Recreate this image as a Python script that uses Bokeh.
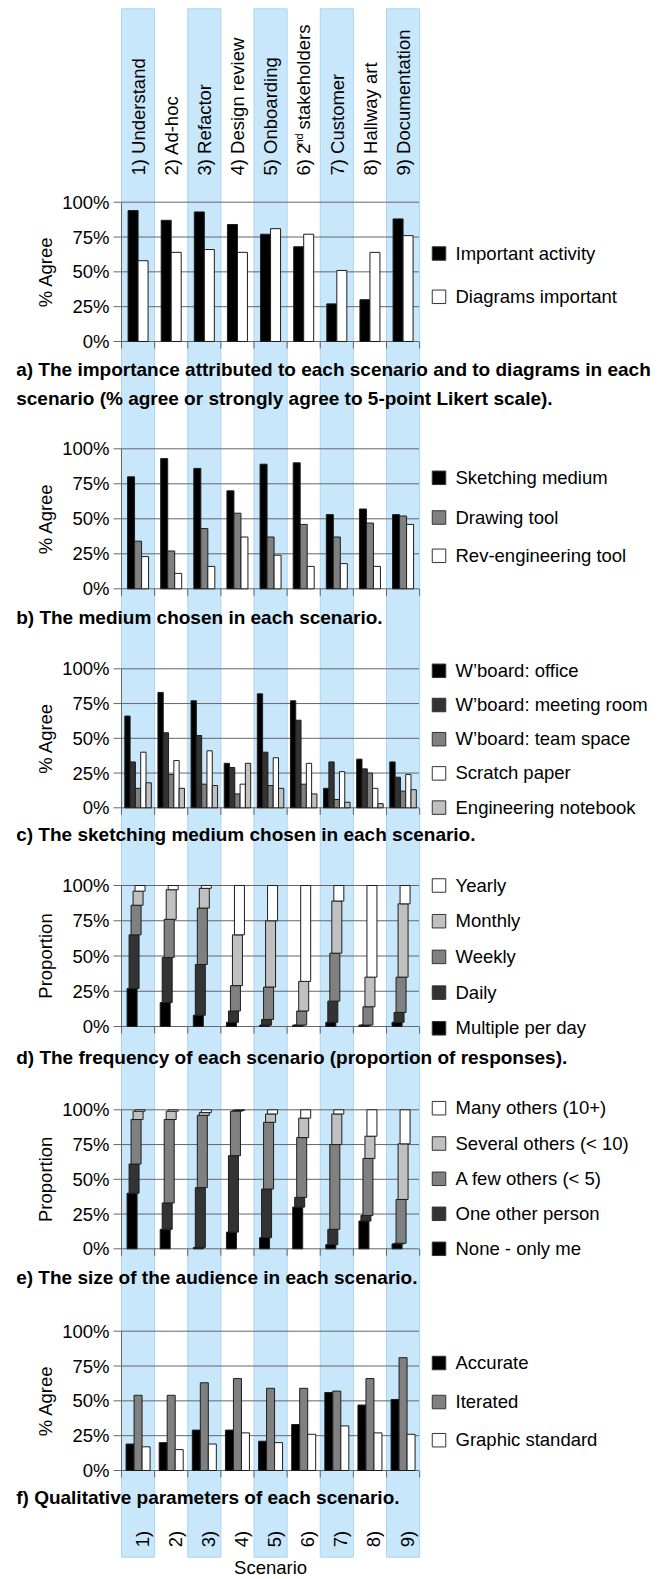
import numpy as np
from bokeh.plotting import figure
from bokeh.models import Range1d
from bokeh.core.properties import value
from bokeh.embed import file_html
from bokeh.resources import INLINE

# ---------------- data ----------------
scenario_names = ["1) Understand", "2) Ad-hoc", "3) Refactor", "4) Design review",
                  "5) Onboarding", "6) 2nd stakeholders", "7) Customer",
                  "8) Hallway art", "9) Documentation"]
scenario_short = ["1)", "2)", "3)", "4)", "5)", "6)", "7)", "8)", "9)"]
y_tick_values = [0, 25, 50, 75, 100]
y_tick_labels = ["0%", "25%", "50%", "75%", "100%"]

# a) importance
a_labels = ["Important activity", "Diagrams important"]
important_activity = [94, 87, 93, 84, 77, 68, 27, 30, 88]
diagrams_important = [58, 64, 66, 64, 81, 77, 51, 64, 76]

# b) medium
b_labels = ["Sketching medium", "Drawing tool", "Rev-engineering tool"]
sketching_medium = [80, 93, 86, 70, 89, 90, 53, 57, 53]
drawing_tool = [34, 27, 43, 54, 37, 46, 37, 47, 52]
rev_engineering_tool = [23, 11, 16, 37, 24, 16, 18, 16, 46]

# c) sketching medium
c_labels = ["W\u2019board: office", "W\u2019board: meeting room", "W\u2019board: team space",
            "Scratch paper", "Engineering notebook"]
wb_office = [66, 83, 77, 32, 82, 77, 14, 35, 33]
wb_meeting_room = [33, 54, 52, 29, 40, 63, 33, 28, 22]
wb_team_space = [14, 24, 17, 10, 16, 17, 6, 25, 12]
scratch_paper = [40, 34, 41, 17, 36, 32, 26, 14, 24]
engineering_notebook = [18, 14, 16, 32, 14, 10, 4, 3, 13]

# d) frequency (proportion of responses, stacked bottom -> top)
d_labels = ["Yearly", "Monthly", "Weekly", "Daily", "Multiple per day"]
freq_multiple = [27, 17, 8, 3, 1, 1, 3, 1, 3]
freq_daily = [38, 32, 36, 8, 4, 0, 15, 0, 7]
freq_weekly = [21, 27, 40, 18, 23, 10, 34, 13, 25]
freq_monthly = [10, 21, 14, 36, 47, 21, 37, 21, 52]
freq_yearly = [4, 3, 2, 35, 25, 68, 11, 65, 13]

# e) audience size (stacked bottom -> top)
e_labels = ["Many others (10+)", "Several others (< 10)", "A few others (< 5)",
            "One other person", "None - only me"]
aud_none = [40, 14, 1, 12, 8, 30, 3, 20, 3.5]
aud_one = [21, 19, 43, 55, 35, 7, 11, 4, 0.5]
aud_few = [32, 60, 52, 32, 48, 43, 61, 41, 31.5]
aud_several = [6, 6, 2, 0.5, 6, 14, 22, 16, 40]
aud_many = [1, 1, 2, 0.5, 3, 6, 3, 19, 24.5]

# f) qualitative parameters
f_labels = ["Accurate", "Iterated", "Graphic standard"]
accurate = [19, 20, 29, 29, 21, 33, 56, 47, 51]
iterated = [54, 54, 63, 66, 59, 59, 57, 66, 81]
graphic_standard = [17, 15, 19, 27, 20, 26, 32, 27, 26]

captions = {
    "a": ["a) The importance attributed to each scenario and to diagrams in each",
          "scenario (% agree or strongly agree to 5-point Likert scale)."],
    "b": ["b) The medium chosen in each scenario."],
    "c": ["c) The sketching medium chosen in each scenario."],
    "d": ["d) The frequency of each scenario (proportion of responses)."],
    "e": ["e) The size of the audience in each scenario."],
    "f": ["f) Qualitative parameters of each scenario."],
}
y_titles = {"a": "% Agree", "b": "% Agree", "c": "% Agree",
            "d": "Proportion", "e": "Proportion", "f": "% Agree"}

# ---------------- layout ----------------
W, H = 664, 1579
TOP = 0
SLOT_L = 121.0
SLOT_W = 33.125
FONT = "Liberation Sans"
BLACK, DARK, MID, LIGHT, WHITE = "#000000", "#333333", "#808080", "#C0C0C0", "#FFFFFF"
GRID = "#666666"
EDGE = "#1e1e1e"
BL = 5.0  # baseline correction (px)


def sx(px):
    return 0.5 + (px - SLOT_L) / SLOT_W


panel_px = {"a": (201.7, 341.0), "b": (448.3, 588.3), "c": (668.3, 807.3),
            "d": (885.0, 1026.0), "e": (1109.3, 1248.3), "f": (1330.7, 1470.0)}
caption_base = {"a": [373.5, 402.5], "b": [621.5], "c": [838.5], "d": [1061.5],
                "e": [1281.5], "f": [1501.5]}
legend_y = {"a": [253, 296.3], "b": [477.3, 517, 555.3],
            "c": [670.3, 704.5, 738.7, 772.9, 807.1],
            "d": [885, 920.7, 956.4, 992.1, 1027.8],
            "e": [1107.7, 1143, 1178.3, 1213.3, 1248.3],
            "f": [1362.5, 1401.5, 1439.7]}

p = figure(width=W, height=H, output_backend="svg", toolbar_location=None,
           x_range=Range1d(sx(TOP), sx(TOP + W)), y_range=Range1d(TOP + H, TOP),
           x_axis_location=None, y_axis_location=None, min_border=0)
p.outline_line_color = None
p.grid.visible = False
p.background_fill_color = "white"
p.border_fill_color = "white"
p.extra_x_ranges = {"px": Range1d(TOP, TOP + W)}
extra = {}
for k, (t, b) in panel_px.items():
    extra[k] = Range1d(100.0 * (b - (TOP + H)) / (b - t), 100.0 * (b - TOP) / (b - t))
p.extra_y_ranges = extra

xs = np.arange(1, 10)


def txt(x, y, text, size="18.5px", bold=False, **kw):
    p.text(x=x, y=y, text=text, text_font=value(FONT), text_font_size=value(size),
           text_font_style="bold" if bold else "normal", text_color="black", **kw)


# stripes behind odd scenarios
p.vbar(x=xs[::2], width=1, top=8.3, bottom=1556.7, fill_color="#C8E7FB",
       line_color="#A9D5F2", line_width=1)

# header labels
hx = xs + (5.3 - BL) / SLOT_W
for i, name in enumerate(scenario_names):
    if i == 5:
        txt([hx[i]], [175], ["6) 2"], angle=np.pi / 2, text_align="left", text_baseline="alphabetic")
        txt([hx[i] - 5 / SLOT_W], [145], ["nd"], size="11px", angle=np.pi / 2,
            text_align="left", text_baseline="alphabetic")
        txt([hx[i]], [129], ["stakeholders"], angle=np.pi / 2, text_align="left",
            text_baseline="alphabetic")
    else:
        txt([hx[i]], [175], [name], angle=np.pi / 2, text_align="left", text_baseline="alphabetic")

# bottom labels
txt(xs + (9 - BL) / SLOT_W, [1546.7] * 9, scenario_short, angle=np.pi / 2, text_align="left",
    text_baseline="alphabetic")
txt([5], [1567], ["Scenario"], text_align="center", text_baseline="alphabetic")


def frame(name):
    t, b = panel_px[name]
    per_px = 100.0 / (b - t)
    p.segment(x0=sx(113), x1=sx(418.5), y0=y_tick_values, y1=y_tick_values,
              line_color=GRID, line_width=1, y_range_name=name)
    edges = np.arange(0.5, 10.0, 1.0)
    p.segment(x0=edges, x1=edges, y0=0, y1=-7 * per_px, line_color=GRID,
              line_width=1, y_range_name=name)
    p.segment(x0=[0.5], x1=[0.5], y0=[0], y1=[100], line_color=GRID, line_width=1,
              y_range_name=name)
    txt(109, y_tick_values, y_tick_labels, text_align="right", text_baseline="middle",
        x_range_name="px", y_range_name=name)
    txt([45], [50], [y_titles[name]], angle=np.pi / 2, text_align="center",
        text_baseline="middle", x_range_name="px", y_range_name=name)
    for line, yb in zip(captions[name], caption_base[name]):
        txt([15.7], [yb - BL], [line], size="19px", bold=True, text_align="left",
            text_baseline="alphabetic", x_range_name="px")


def grouped(name, series, colors, bar_px):
    n = len(series)
    for i, (vals, col) in enumerate(zip(series, colors)):
        off = (i - (n - 1) / 2) * bar_px / SLOT_W
        p.vbar(x=xs + off, top=vals, bottom=0, width=bar_px / SLOT_W, fill_color=col,
               line_color=EDGE, line_width=1, y_range_name=name)


def stacked(name, series, colors):
    bottom = np.zeros(9)
    for k, (vals, col) in enumerate(zip(series, colors)):
        top = bottom + np.array(vals, dtype=float)
        p.vbar(x=xs + (-6 + 2 * k) / SLOT_W, bottom=bottom, top=top, width=10 / SLOT_W,
               fill_color=col, line_color=EDGE, line_width=1, y_range_name=name)
        bottom = top


def legend(name, labels, colors):
    ys = legend_y[name]
    p.rect(x=438.5, y=ys, width=13.5, height=13.5, fill_color=colors, line_color="#333333",
           line_width=1, x_range_name="px")
    txt(455, [y + 4.5 - BL for y in ys], labels, text_align="left", text_baseline="alphabetic",
        x_range_name="px")


for nm in panel_px:
    frame(nm)

grouped("a", [important_activity, diagrams_important], [BLACK, WHITE], 10)
legend("a", a_labels, [BLACK, WHITE])

grouped("b", [sketching_medium, drawing_tool, rev_engineering_tool], [BLACK, MID, WHITE], 7)
legend("b", b_labels, [BLACK, MID, WHITE])

grouped("c", [wb_office, wb_meeting_room, wb_team_space, scratch_paper, engineering_notebook],
        [BLACK, DARK, MID, WHITE, LIGHT], 5.3)
legend("c", c_labels, [BLACK, DARK, MID, WHITE, LIGHT])

stacked("d", [freq_multiple, freq_daily, freq_weekly, freq_monthly, freq_yearly],
        [BLACK, DARK, MID, LIGHT, WHITE])
legend("d", d_labels, [WHITE, LIGHT, MID, DARK, BLACK])

stacked("e", [aud_none, aud_one, aud_few, aud_several, aud_many],
        [BLACK, DARK, MID, LIGHT, WHITE])
legend("e", e_labels, [WHITE, LIGHT, MID, DARK, BLACK])

grouped("f", [accurate, iterated, graphic_standard], [BLACK, MID, WHITE], 8)
legend("f", f_labels, [BLACK, MID, WHITE])

open("out.html", "w").write(file_html(p, INLINE))
